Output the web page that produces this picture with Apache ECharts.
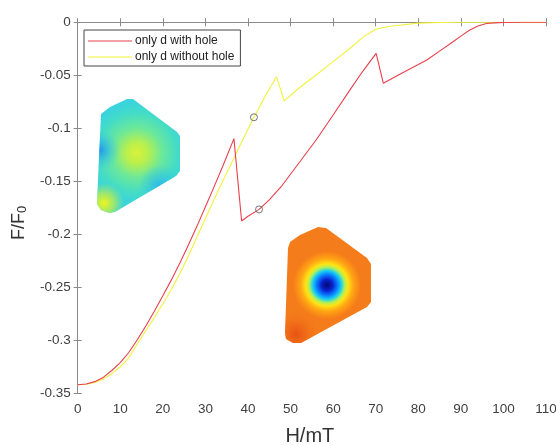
<!DOCTYPE html>
<html>
<head>
<meta charset="utf-8">
<script src="https://cdn.jsdelivr.net/npm/echarts@6/dist/echarts.min.js"></script>
<style>
  html, body { margin: 0; padding: 0; background: #fff; }
  #main { width: 556px; height: 445px; }
</style>
</head>
<body>
<div id="main"></div>
<script>
// data
const seriesNames = ["only d with hole", "only d without hole"];

const redX = [0, 2, 4, 6, 8, 10, 12, 14, 16, 18, 20, 22, 24, 26, 28, 30, 32, 34, 36.7,
  38.5, 40, 42.6, 45, 48, 52, 56, 60, 64, 67, 70.1,
  71.8, 75, 80, 82, 85, 88, 90, 92, 94, 96, 98, 100, 105, 110];
const redY = [-0.342, -0.3412, -0.339, -0.335, -0.3285, -0.321, -0.3115, -0.2995, -0.2865, -0.2725,
  -0.258, -0.243, -0.227, -0.21, -0.1925, -0.174, -0.1555, -0.1365, -0.1097,
  -0.1875, -0.183, -0.1765, -0.1675, -0.154, -0.1325, -0.111, -0.0875, -0.0635, -0.046, -0.0293,
  -0.0576, -0.0505, -0.0399, -0.0356, -0.0272, -0.0188, -0.013, -0.0075, -0.0035, -0.0012, -0.0005, -0.0002, 0, 0];

const yellowX = [0, 2, 4, 6, 8, 10, 12, 14, 16, 18, 20, 22, 24, 26, 28, 30, 32, 34, 36, 38,
  41.4, 44, 46.7, 48.5, 52, 56, 60, 64, 67, 70, 73, 76, 80, 85, 90, 110];
const yellowY = [-0.342, -0.3415, -0.3398, -0.3365, -0.3315, -0.325, -0.3165, -0.3035, -0.291, -0.2785,
  -0.2655, -0.252, -0.237, -0.2205, -0.2025, -0.185, -0.1675, -0.1505, -0.1338, -0.1172,
  -0.0896, -0.07, -0.0513, -0.0742, -0.062, -0.0497, -0.0371, -0.0245, -0.014, -0.0065,
  -0.004, -0.0025, -0.0008, -0.0002, 0, 0];

const markerX = [41.4, 42.6];
const markerY = [-0.0896, -0.1765];

const xMin = 0, xMax = 110, xStep = 10;
const yMin = -0.35, yMax = 0, yStep = 0.05;

const toPairs = (xs, ys) => xs.map((x, i) => [x, ys[i]]);

const fontFamily = "'Liberation Sans', Arial, sans-serif";
const axisGray = "#8a8a8a";

// inset shapes (decoration)
const inset1 = [[101,114],[110,107],[127,99],[133,99],[177,132],[180,136],[180,171],[176,176],
  [115,212],[109,213],[101,210],[97,204],[98,180]];
const inset2 = [[290,242],[300,235],[318,227],[326,228],[367,258],[371,264],[371,302],[367,307],
  [301,343],[293,343],[286,339],[285,333],[288,248]];

const chart = echarts.init(document.getElementById("main"));

const option = {
  animation: false,
  backgroundColor: "#fff",
  grid: { left: 77.7, right: 10, top: 22.3, bottom: 51.7, containLabel: false, outerBoundsMode: "none" },
  legend: {
    data: seriesNames,
    orient: "vertical",
    left: 84,
    top: 30,
    padding: [5, 6, 3, 4],
    itemGap: 4,
    itemWidth: 44,
    itemHeight: 1,
    icon: "rect",
    backgroundColor: "#fff",
    borderColor: "#444",
    borderWidth: 1,
    borderRadius: 0,
    z: 10,
    textStyle: { color: "#222", fontSize: 12, fontFamily: fontFamily, padding: [0, 0, 0, -2] }
  },
  xAxis: [
    {
      type: "value", min: xMin, max: xMax, interval: xStep,
      name: "H/mT", nameLocation: "middle", nameGap: 33,
      nameTextStyle: { color: "#333", fontSize: 20, fontFamily: fontFamily, padding: [0, 4, 0, 0] },
      axisLine: { show: true, lineStyle: { color: axisGray, width: 1 } },
      axisTick: { show: true, inside: true, length: 4, lineStyle: { color: axisGray } },
      axisLabel: { color: "#404040", fontSize: 13.5, fontFamily: fontFamily, margin: 9 },
      splitLine: { show: false }
    },
    {
      type: "value", min: xMin, max: xMax, interval: xStep, position: "top",
      axisLine: { show: true, lineStyle: { color: axisGray, width: 1 } },
      axisTick: { show: true, inside: true, length: 4, lineStyle: { color: axisGray } },
      axisLabel: { show: false },
      splitLine: { show: false }
    }
  ],
  yAxis: [
    {
      type: "value", min: yMin, max: yMax, interval: yStep,
      name: "F/F{sub|0}", nameLocation: "middle", nameGap: 42, nameRotate: 90,
      nameTextStyle: {
        color: "#333", fontSize: 18, fontFamily: fontFamily, padding: [0, 30, 0, 0],
        rich: { sub: { fontSize: 13, color: "#333", fontFamily: fontFamily, verticalAlign: "bottom", padding: [6, 0, 0, 0] } }
      },
      axisLine: { show: true, lineStyle: { color: axisGray, width: 1 } },
      axisTick: { show: true, inside: true, length: 4, lineStyle: { color: axisGray } },
      axisLabel: {
        color: "#404040", fontSize: 13.5, fontFamily: fontFamily, margin: 7,
        formatter: v => (Math.abs(v) < 1e-9 ? "0" : String(+v.toFixed(2)))
      },
      splitLine: { show: false }
    },
    {
      type: "value", min: yMin, max: yMax, interval: yStep, position: "right",
      axisLine: { show: true, lineStyle: { color: axisGray, width: 1 } },
      axisTick: { show: true, inside: true, length: 4, lineStyle: { color: axisGray } },
      axisLabel: { show: false },
      splitLine: { show: false }
    }
  ],
  graphic: [
    { type: "polygon", z: 1, shape: { points: inset1 }, style: { fill: {
      type: "radial", x: 137, y: 153, r: 50, global: true,
      colorStops: [
        { offset: 0, color: "#d6f23a" }, { offset: 0.2, color: "#bcf04a" },
        { offset: 0.5, color: "#6ce89a" }, { offset: 0.8, color: "#44dcc6" }, { offset: 1, color: "#3ad4dc" }
      ] } } },
    { type: "polygon", z: 2, shape: { points: inset1 }, style: { fill: {
      type: "radial", x: 99, y: 150, r: 22, global: true,
      colorStops: [
        { offset: 0, color: "rgba(30,140,240,0.95)" }, { offset: 0.5, color: "rgba(40,180,240,0.5)" },
        { offset: 1, color: "rgba(60,210,220,0)" }
      ] } } },
    { type: "polygon", z: 2, shape: { points: inset1 }, style: { fill: {
      type: "radial", x: 104, y: 203, r: 20, global: true,
      colorStops: [
        { offset: 0, color: "rgba(240,244,30,1)" }, { offset: 0.5, color: "rgba(220,244,40,0.6)" },
        { offset: 1, color: "rgba(200,240,60,0)" }
      ] } } },
    { type: "polygon", z: 2, shape: { points: inset1 }, style: { fill: {
      type: "radial", x: 160, y: 186, r: 22, global: true,
      colorStops: [
        { offset: 0, color: "rgba(40,180,240,0.85)" }, { offset: 1, color: "rgba(40,190,240,0)" }
      ] } } },
    { type: "polygon", z: 1, shape: { points: inset2 }, style: { fill: {
      type: "radial", x: 327, y: 285, r: 34, global: true,
      colorStops: [
        { offset: 0, color: "#020a70" }, { offset: 0.16, color: "#0a1fc8" },
        { offset: 0.3, color: "#0a78ff" }, { offset: 0.42, color: "#18d0f0" },
        { offset: 0.52, color: "#a8f060" }, { offset: 0.62, color: "#ffe414" },
        { offset: 0.78, color: "#ffa414" }, { offset: 1, color: "#f57c1a" }
      ] } } },
    { type: "polygon", z: 2, shape: { points: inset2 }, style: { fill: {
      type: "radial", x: 296, y: 334, r: 22, global: true,
      colorStops: [
        { offset: 0, color: "rgba(232,80,20,1)" }, { offset: 1, color: "rgba(240,110,24,0)" }
      ] } } }
  ],
  series: [
    {
      name: seriesNames[0], type: "line", xAxisIndex: 0, yAxisIndex: 0,
      data: toPairs(redX, redY), showSymbol: false, symbol: "none",
      lineStyle: { color: "#e8404c", width: 1.1 }, itemStyle: { color: "#e8404c" }, z: 5
    },
    {
      name: seriesNames[1], type: "line", xAxisIndex: 0, yAxisIndex: 0,
      data: toPairs(yellowX, yellowY), showSymbol: false, symbol: "none",
      lineStyle: { color: "#f2f23c", width: 1.1 }, itemStyle: { color: "#f2f23c" }, z: 4
    },
    {
      name: "markers", type: "scatter", xAxisIndex: 0, yAxisIndex: 0,
      data: toPairs(markerX, markerY), symbol: "circle", symbolSize: 7,
      itemStyle: { color: "rgba(0,0,0,0)", borderColor: "#555", borderWidth: 1 }, z: 6
    }
  ]
};

chart.setOption(option);
window.addEventListener("resize", () => {
  chart.resize();
});
</script>
</body>
</html>
